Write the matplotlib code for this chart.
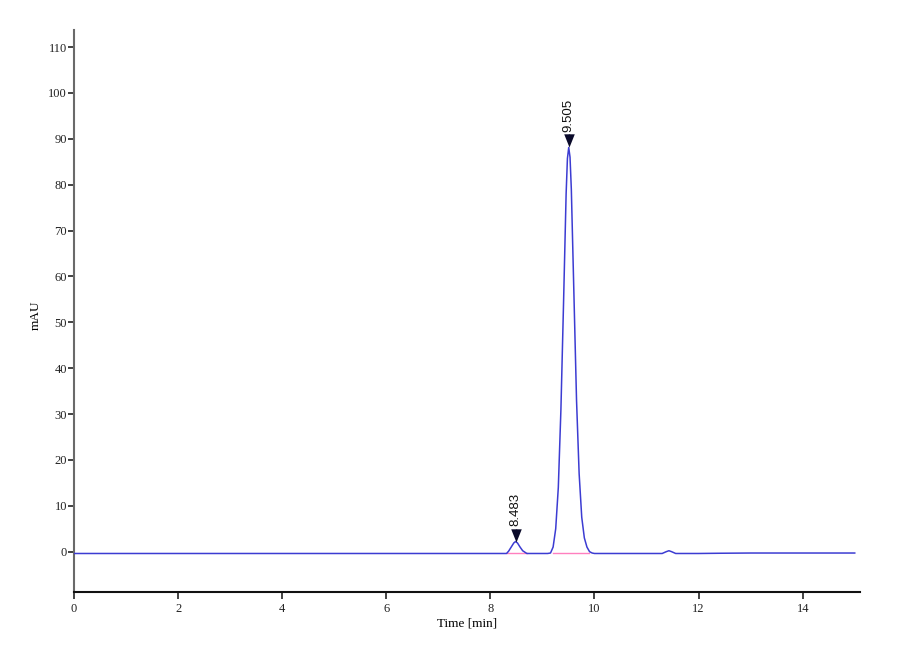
import matplotlib
matplotlib.use("Agg")
import matplotlib.pyplot as plt
from matplotlib.markers import MarkerStyle

# Chromatogram trace (time in min, signal in mAU)
time_min = [0.0, 2.0, 4.0, 6.0, 8.0, 8.31, 8.35, 8.40, 8.45, 8.483, 8.52, 8.57, 8.62, 8.70,
            9.00, 9.10, 9.155, 9.205, 9.255, 9.305, 9.355, 9.405, 9.455, 9.48, 9.505,
            9.53, 9.555, 9.605, 9.655, 9.705, 9.755, 9.805, 9.855, 9.905, 9.955,
            10.0, 10.5, 11.0, 11.30, 11.38, 11.43, 11.48, 11.56, 12.0, 12.4, 13.0,
            14.0, 15.0]
signal_mau = [-0.4, -0.4, -0.4, -0.4, -0.4, -0.4, 0.1, 1.0, 1.9, 2.2, 1.9, 1.0, 0.2, -0.4,
              -0.4, -0.4, -0.3, 1.0, 5.0, 14.0, 31.0, 54.0, 78.0, 85.7, 88.1,
              86.0, 79.0, 56.0, 33.0, 17.0, 7.5, 3.0, 1.0, 0.0, -0.3,
              -0.4, -0.4, -0.4, -0.4, 0.0, 0.2, 0.0, -0.4, -0.4, -0.35, -0.3,
              -0.3, -0.3]

# Peak annotations
peak_times = [8.483, 9.505]
peak_heights = [2.2, 88.1]
peak_labels = ["8.483", "9.505"]

# Integration baselines (start, end, level)
base_starts = [8.31, 9.21]
base_ends = [8.70, 9.90]
base_levels = [-0.4, -0.4]

x_ticks = [0, 2, 4, 6, 8, 10, 12, 14]
y_ticks = [0, 10, 20, 30, 40, 50, 60, 70, 80, 90, 100, 110]

plt.rcParams['font.family'] = ['Liberation Serif', 'DejaVu Serif']

fig = plt.figure(figsize=(9, 6.6), dpi=100)
ax = fig.add_axes([0.0822, 0.103, 0.8733, 0.8515])

for s, e, lv in zip(base_starts, base_ends, base_levels):
    ax.plot([s, e], [lv, lv], color="#ff7fbf", lw=1.0, zorder=2)

ax.plot(time_min, signal_mau, color="#3c3cd2", lw=1.1, zorder=3)

# down-pointing triangle with its tip at the anchor point
tri = MarkerStyle([(-0.4, 1.0), (0.4, 1.0), (0.0, 0.0), (-0.4, 1.0)])
stem = MarkerStyle([(0.0, 1.0), (0.0, 1.35)])
for t, h, lab in zip(peak_times, peak_heights, peak_labels):
    ax.plot([t], [h], marker=tri, markersize=19, color="#0a0a2a",
            markeredgewidth=0, zorder=4, linestyle="none")
    ax.plot([t], [h], marker=stem, markersize=19, color="#0a0a2a",
            markeredgewidth=1.0, zorder=4, linestyle="none", fillstyle="none")
    ax.annotate(lab, xy=(t, h), xytext=(0, 11), textcoords="offset points",
                rotation=90, ha="center", va="bottom", fontsize=9.5,
                family=["Liberation Sans", "DejaVu Sans"], color="#111111")

ax.set_xlim(0, 15.1)
ax.set_ylim(-8.8, 113.7)
ax.set_xticks(x_ticks)
ax.set_yticks(y_ticks)
ax.tick_params(axis="both", labelsize=9, direction="out", length=4, width=1.2,
               colors="#222222", pad=1)
ax.tick_params(axis="x", length=5, pad=3)

for side in ("top", "right"):
    ax.spines[side].set_visible(False)
ax.spines["left"].set_color("#6a6a6a")
ax.spines["left"].set_linewidth(1.5)
ax.spines["bottom"].set_color("#111111")
ax.spines["bottom"].set_linewidth(1.5)

ax.set_xlabel("Time [min]", fontsize=9.5, labelpad=2)
ax.set_ylabel("mAU", fontsize=9.5)
ax.yaxis.set_label_coords(-0.041, 0.493)

fig.savefig("out.png", dpi=100)
